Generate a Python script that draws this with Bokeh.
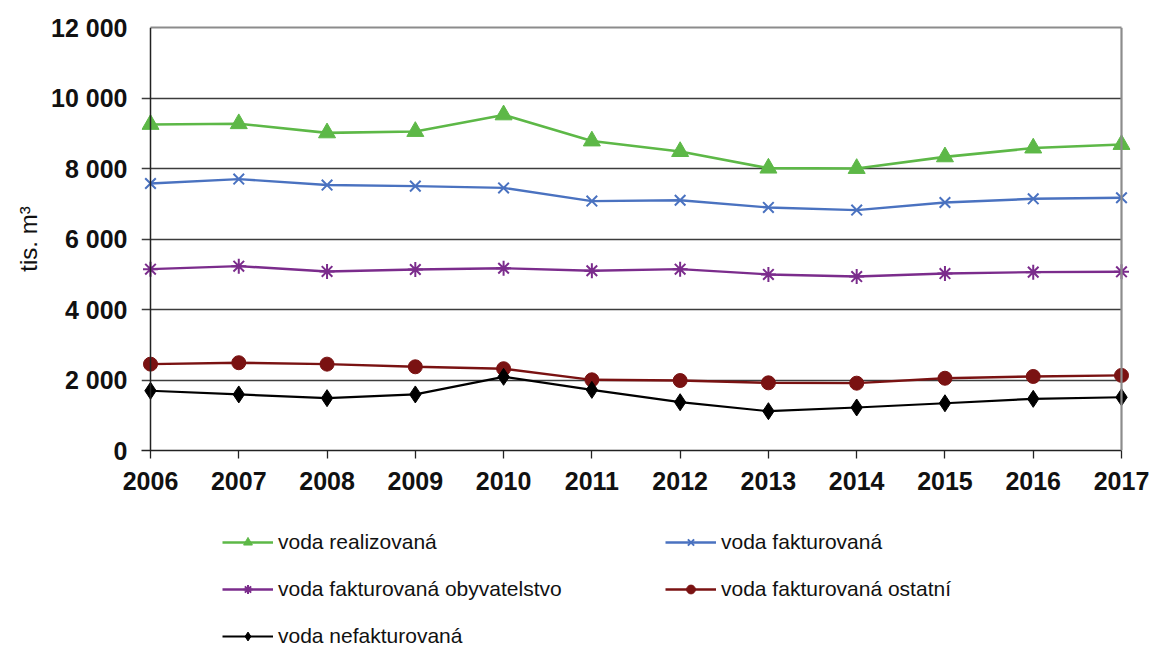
import math
from bokeh.plotting import figure
from bokeh.layouts import column
from bokeh.models import (Range1d, FixedTicker, LinearAxis, Span, Legend,
                          LegendItem)
from bokeh.embed import file_html
from bokeh.resources import INLINE

# ---------------- data ----------------
years = [2006, 2007, 2008, 2009, 2010, 2011, 2012, 2013, 2014, 2015, 2016, 2017]

voda_realizovana = [9250, 9270, 9010, 9050, 9520, 8780, 8480, 8010, 8000, 8330, 8580, 8680]
voda_fakturovana = [7575, 7700, 7530, 7500, 7450, 7075, 7100, 6895, 6820, 7035, 7140, 7170]
voda_fakturovana_obyvatelstvo = [5145, 5230, 5080, 5135, 5170, 5100, 5145, 4995, 4935, 5020, 5060, 5070]
voda_fakturovana_ostatni = [2450, 2490, 2450, 2375, 2320, 2005, 1985, 1920, 1910, 2050, 2100, 2130]
voda_nefakturovana = [1695, 1590, 1485, 1590, 2090, 1720, 1370, 1115, 1220, 1340, 1465, 1510]

series_names = ["voda realizovaná", "voda fakturovaná", "voda fakturovaná obyvatelstvo",
                "voda fakturovaná ostatní", "voda nefakturovaná"]

y_ticks = [0, 2000, 4000, 6000, 8000, 10000, 12000]
y_tick_labels = ["0", "2 000", "4 000", "6 000", "8 000", "10 000", "12 000"]
y_axis_title = "tis. m³"

# ---------------- layout params ----------------
W = 1154
H_PLOT, H_LEG = 510, 136
border_left, border_right, border_top, border_bottom = 141, 24, 27, 60
frame_w = W - border_left - border_right
pad_px = 9
span_px = frame_w - 2 * pad_px
yrs = years[-1] - years[0]
pad_yr = pad_px * yrs / span_px
x_start, x_end = years[0] - pad_yr, years[-1] + pad_yr

FONT = "Liberation Sans"
AXIS_COL = "#222222"
GRID_COL = "#3c3c3c"
FRAME_COL = "#8c8c8c"

styles = [
    ("#5DB847", "triangle", 17, 2.6),
    ("#4A72C0", "x", 15, 2.4),
    ("#7B2C8C", "asterisk", 15, 2.4),
    ("#7A1212", "circle", 14, 2.4),
    ("#000000", "diamond", 17, 2.2),
]
series_values = [voda_realizovana, voda_fakturovana, voda_fakturovana_obyvatelstvo,
                 voda_fakturovana_ostatni, voda_nefakturovana]

p = figure(width=W, height=H_PLOT, x_range=Range1d(x_start, x_end), y_range=Range1d(0, 12000),
           output_backend="svg", toolbar_location=None,
           min_border_left=border_left, min_border_right=border_right,
           min_border_top=border_top, min_border_bottom=border_bottom)
p.outline_line_color = None
p.background_fill_color = "white"
p.border_fill_color = "white"

# horizontal grid lines (protruding a little left of the value axis, like tick marks)
p.xgrid.visible = False
yg = p.ygrid[0]
yg.ticker = FixedTicker(ticks=y_ticks)
yg.grid_line_color = GRID_COL
yg.grid_line_width = 1.3
try:
    yg.cross_bounds = (x_start, years[-1])
except Exception:
    pass

# y axis (labels only; the axis line is drawn at the first year)
ya = p.yaxis[0]
ya.ticker = FixedTicker(ticks=y_ticks)
ya.major_label_overrides = {t: l for t, l in zip(y_ticks, y_tick_labels)}
ya.axis_line_color = None
ya.major_tick_out = 0
ya.major_tick_in = 0
ya.minor_tick_out = 0
ya.minor_tick_in = 0
ya.major_label_text_font = FONT
ya.major_label_text_font_style = "bold"
ya.major_label_text_font_size = "25px"
ya.major_label_text_color = "#111111"
ya.major_label_standoff = 14
ya.axis_label = y_axis_title
ya.axis_label_text_font = FONT
ya.axis_label_text_font_style = "normal"
ya.axis_label_text_font_size = "24px"
ya.axis_label_text_color = "#111111"
ya.axis_label_standoff = 6
p.add_layout(Span(location=years[0], dimension="height", line_color=AXIS_COL, line_width=1.5))

# x axis
xa = p.xaxis[0]
xa.ticker = FixedTicker(ticks=years)
xa.bounds = (x_start, years[-1])
xa.axis_line_color = AXIS_COL
xa.axis_line_width = 1.5
xa.major_tick_out = 8
xa.major_tick_in = 0
xa.major_tick_line_color = AXIS_COL
xa.major_tick_line_width = 1.3
xa.minor_tick_out = 0
xa.minor_tick_in = 0
xa.major_label_text_font = FONT
xa.major_label_text_font_style = "bold"
xa.major_label_text_font_size = "25px"
xa.major_label_text_color = "#111111"
xa.major_label_standoff = 13

# top and right border of the plot area
top_ax = LinearAxis(ticker=FixedTicker(ticks=[]), bounds=(years[0], years[-1]),
                    axis_line_color=FRAME_COL, axis_line_width=2.2,
                    major_tick_out=0, major_tick_in=0, minor_tick_out=0, minor_tick_in=0)
p.add_layout(top_ax, "above")
p.add_layout(Span(location=years[-1], dimension="height", line_color=FRAME_COL, line_width=2.2))

# series
for vals, (col, mk, sz, lw) in zip(series_values, styles):
    p.line(years, vals, line_color=col, line_width=lw)
    p.scatter(years, vals, marker=mk, size=sz, fill_color=col, line_color=col,
              line_width=2 if mk in ("x", "asterisk") else 1)

# ---------------- legend strip below the chart ----------------
# (same series drawn again, but outside this strip's view, only to feed legend glyphs)
pl = figure(width=W, height=H_LEG, x_range=Range1d(0, 1), y_range=Range1d(0, 1),
            output_backend="svg", toolbar_location=None,
            x_axis_location=None, y_axis_location=None,
            min_border_left=border_left, min_border_right=border_right,
            min_border_top=0, min_border_bottom=0)
pl.outline_line_color = None
pl.xgrid.visible = False
pl.ygrid.visible = False
pl.background_fill_color = "white"
pl.border_fill_color = "white"

items = []
for name, vals, (col, mk, sz, lw) in zip(series_names, series_values, styles):
    ln = pl.line(years, vals, line_color=col, line_width=lw)
    sc = pl.scatter(years, vals, marker=mk, size=sz, fill_color=col, line_color=col,
                    line_width=2 if mk in ("x", "asterisk") else 1)
    items.append(LegendItem(label=name, renderers=[ln, sc]))

legend = Legend(items=items, location=(222 - border_left, -2), orientation="horizontal", ncols=2,
                spacing=23, padding=0, margin=0, glyph_width=51, glyph_height=22,
                label_height=22, label_width=364, label_standoff=5,
                label_text_font=FONT, label_text_font_size="21px",
                label_text_color="#111111",
                border_line_alpha=0, background_fill_alpha=0)
pl.add_layout(legend, "center")

layout = column(p, pl, spacing=0)
open("out.html", "w").write(file_html(layout, INLINE))
